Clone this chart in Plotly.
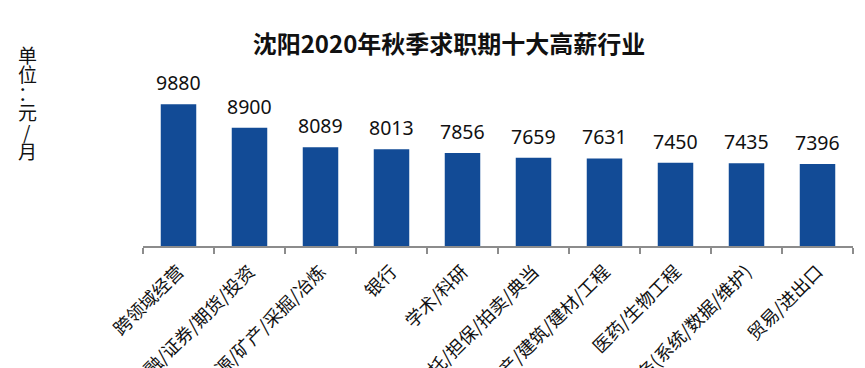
import plotly.graph_objects as go

categories = ["跨领域经营", "金融/证券/期货/投资", "能源/矿产/采掘/冶炼", "银行", "学术/科研",
              "信托/担保/拍卖/典当", "房地产/建筑/建材/工程", "医药/生物工程",
              "IT服务(系统/数据/维护)", "贸易/进出口"]
salaries = [9880, 8900, 8089, 8013, 7856, 7659, 7631, 7450, 7435, 7396]

title_text = "沈阳2020年秋季求职期十大高薪行业"
unit_chars = ["单", "位", "：", "元", "/", "月"]

fig = go.Figure(go.Bar(
    x=categories, y=salaries,
    marker=dict(color="#124B96", line=dict(width=0)),
    hoverinfo="x+y",
))

annotations = []
for c, v in zip(categories, salaries):
    annotations.append(dict(x=c, y=v, xref="x", yref="y", text=str(v), showarrow=False,
                            xanchor="center", yanchor="bottom", yshift=6,
                            font=dict(size=19.5, color="#111111", family="Noto Sans, Open Sans, sans-serif")))

# vertical unit label, one character per line
for i, ch in enumerate(unit_chars):
    annotations.append(dict(text=ch, xref="paper", yref="paper",
                            x=(27 - 143) / 710, y=1 - (54 + i * 19.3 - 53) / 193,
                            xanchor="center", yanchor="middle", showarrow=False,
                            font=dict(size=19, color="#111111", family="Noto Sans CJK SC")))

fig.update_layout(
    width=865, height=368,
    margin=dict(l=143, r=12, t=53, b=122, autoexpand=False),
    paper_bgcolor="white", plot_bgcolor="white",
    bargap=0.5,
    showlegend=False,
    title=dict(text="<b>" + title_text + "</b>", x=(449 - 143) / 710, xref="paper", xanchor="center",
               y=1 - 45 / 368, yanchor="middle",
               font=dict(size=24, color="#111111", family="Noto Sans CJK SC")),
    xaxis=dict(showline=True, linecolor="#8c8c8c", linewidth=2,
               ticks="outside", tickson="boundaries", ticklen=6, tickcolor="#8c8c8c", tickwidth=2,
               tickangle=-45, automargin=False, ticklabelstandoff=6,
               tickfont=dict(size=18, color="#111111", family="Noto Sans CJK SC")),
    yaxis=dict(range=[4000, 12000], visible=False, showgrid=False, fixedrange=True),
    annotations=annotations,
)

fig.write_html("out.html")
